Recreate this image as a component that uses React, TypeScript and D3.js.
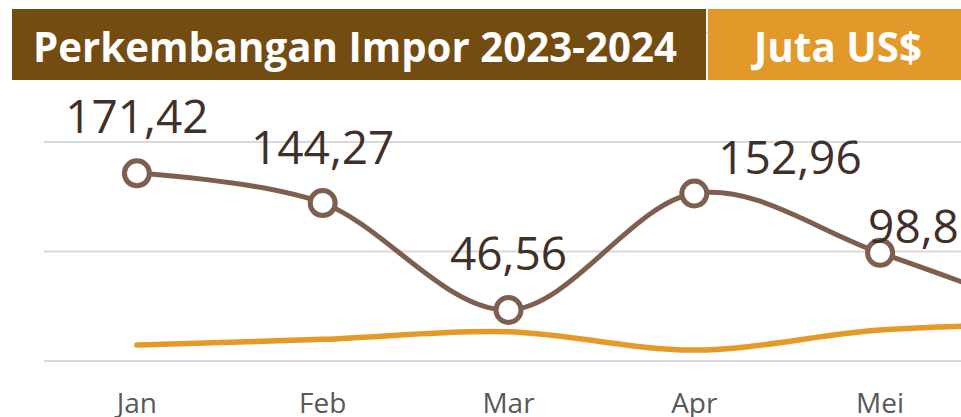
import React from 'react';
import * as d3 from 'd3';

// data (Juta US$)
const months = ['Jan', 'Feb', 'Mar', 'Apr', 'Mei', 'Jun'];
const imporBrown = [171.42, 144.27, 46.56, 152.96, 98.8, 37];
const imporOrange = [14.6, 19.8, 26.8, 10, 28.3, 34];
const gridTicks = [0, 100, 200, 300];
const titleText = 'Perkembangan Impor 2023-2024';
const unitText = 'Juta US$';

// manual label nudges (dx, dy from point, anchor)
const labelNudge: [number, number, string][] = [
  [0, -40, 'middle'],
  [0, -39, 'middle'],
  [0, -40, 'middle'],
  [24, -20, 'start'],
  [-12, -10, 'start'],
  [0, -40, 'middle'],
];

const W = 961;
const H = 417;
const plotLeft = 44;
const step = 185.8;

const fmt = (v: number) => v.toFixed(2).replace('.', ',').replace(/,(\d)0$/, ',$10').replace(/,(\d\d)$/, ',$1');

const App = () => {
  const x = d3
    .scaleBand<string>()
    .domain(months)
    .range([plotLeft, plotLeft + step * months.length])
    .padding(0);
  const cx = (m: string) => (x(m) as number) + x.bandwidth() / 2;

  const y = d3.scaleLinear().domain([0, 300]).range([361, 32.5]);

  const line = d3
    .line<number>()
    .x((_, i) => cx(months[i]))
    .y((d) => y(d))
    .curve(d3.curveCardinal.tension(0));

  const brown = '#7E5F4F';
  const orange = '#E39B27';

  return (
    <svg width={W} height={H} style={{ position: 'absolute', left: 0, top: 0 }} fontFamily="'Open Sans', 'Noto Sans', sans-serif">
      <rect width={W} height={H} fill="#fff" />

      {/* gridlines */}
      {gridTicks.map((t) => (
        <line key={t} x1={plotLeft} x2={W} y1={y(t)} y2={y(t)} stroke="#D9D9D9" strokeWidth={1.8} />
      ))}

      {/* lines */}
      <path d={line(imporOrange) || ''} fill="none" stroke={orange} strokeWidth={5.5} strokeLinecap="round" />
      <path d={line(imporBrown) || ''} fill="none" stroke={brown} strokeWidth={5} strokeLinecap="round" />

      {/* markers */}
      {imporBrown.map((v, i) => (
        <circle key={i} cx={cx(months[i])} cy={y(v)} r={12.5} fill="#fff" stroke={brown} strokeWidth={5} />
      ))}

      {/* data labels */}
      {imporBrown.map((v, i) => (
        <text
          key={i}
          x={cx(months[i]) + labelNudge[i][0]}
          y={y(v) + labelNudge[i][1]}
          textAnchor={labelNudge[i][2] as any}
          fontSize={46}
          fill="#3F3029"
        >
          {fmt(v)}
        </text>
      ))}

      {/* category labels */}
      {months.map((m) => (
        <text key={m} x={cx(m)} y={413} textAnchor="middle" fontSize={28} fill="#595959">
          {m}
        </text>
      ))}

      {/* header */}
      <rect x={12} y={9} width={694} height={71} fill="#734C11" />
      <rect x={708} y={9} width={W - 708} height={71} fill="#E2992A" />
      <text x={33} y={62} fontSize={42} fontWeight="bold" fill="#fff" textLength={644} lengthAdjust="spacingAndGlyphs">
        {titleText}
      </text>
      <text x={754} y={62} fontSize={42} fontWeight="bold" fill="#fff" textLength={168} lengthAdjust="spacingAndGlyphs">
        {unitText}
      </text>
    </svg>
  );
};

export default App;
